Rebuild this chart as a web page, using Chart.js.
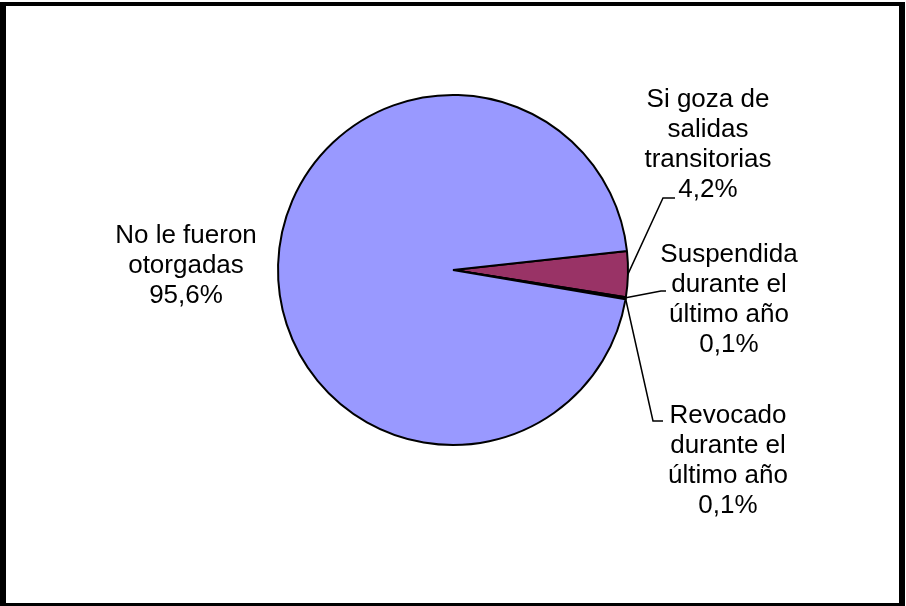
<!DOCTYPE html>
<html>
<head>
<meta charset="utf-8">
<script src="https://cdn.jsdelivr.net/npm/chart.js@4/dist/chart.umd.min.js"></script>
<style>
  html, body { margin: 0; padding: 0; background: #ffffff; }
  #wrap { position: relative; width: 906px; height: 606px; }
  #c { position: absolute; left: 0; top: 0; }
  #frame { position: absolute; left: 0; top: 2px; width: 905px; height: 604px; box-sizing: border-box;
           border-style: solid; border-color: #000; border-width: 4px 6px 3px 6px; pointer-events: none; }
</style>
</head>
<body>
<div id="wrap">
  <canvas id="c" width="906" height="606"></canvas>
  <div id="frame"></div>
</div>
<script>
// ---- data ----
const categories = [
  ["Si goza de", "salidas", "transitorias"],
  ["Suspendida", "durante el", "último año"],
  ["Revocado", "durante el", "último año"],
  ["No le fueron", "otorgadas"]
];
const values = [4.2, 0.1, 0.1, 95.6];
const valueLabels = ["4,2%", "0,1%", "0,1%", "95,6%"];
const colors = ["#993366", "#FFFFCC", "#CCFFFF", "#9999FF"];

// ---- label layout (offsets from pie centre, px) ----
const labelLayout = [
  { tx: 255, ty: -163, elbow: [210, -72], end: [222, -72] },
  { tx: 276, ty: -8,   elbow: [208, 21],  end: [213, 21] },
  { tx: 275, ty: 153,  elbow: [200, 151], end: [210, 151] },
  { tx: -267, ty: -27, elbow: null, end: null }
];

const labelPlugin = {
  id: 'pieLabels',
  afterDatasetsDraw(chart) {
    const ctx = chart.ctx;
    const meta = chart.getDatasetMeta(0);
    const fontSize = 26, lh = 30;
    ctx.save();
    ctx.font = fontSize + 'px "Liberation Sans", Arial, sans-serif';
    ctx.fillStyle = '#000';
    ctx.textAlign = 'center';
    ctx.textBaseline = 'alphabetic';
    meta.data.forEach((arc, i) => {
      const p = arc.getProps(['x', 'y', 'startAngle', 'endAngle', 'outerRadius'], true);
      const L = labelLayout[i];
      const lines = categories[i].concat([valueLabels[i]]);
      lines.forEach((t, k) => ctx.fillText(t, p.x + L.tx, p.y + L.ty + k * lh));
      if (L.elbow) {
        const mid = (p.startAngle + p.endAngle) / 2;
        const sx = p.x + Math.cos(mid) * p.outerRadius;
        const sy = p.y + Math.sin(mid) * p.outerRadius;
        ctx.beginPath();
        ctx.strokeStyle = '#000';
        ctx.lineWidth = 1.5;
        ctx.moveTo(sx, sy);
        ctx.lineTo(p.x + L.elbow[0], p.y + L.elbow[1]);
        ctx.lineTo(p.x + L.end[0], p.y + L.end[1]);
        ctx.stroke();
      }
    });
    ctx.restore();
  }
};

new Chart(document.getElementById('c'), {
  type: 'pie',
  data: {
    labels: categories.map(c => c.join(' ')),
    datasets: [{
      data: values,
      backgroundColor: colors,
      borderColor: '#000000',
      borderWidth: 2
    }]
  },
  options: {
    responsive: false,
    animation: false,
    rotation: 83.8,
    layout: { padding: { top: 94, bottom: 160, left: 0, right: 0 } },
    plugins: { legend: { display: false }, tooltip: { enabled: false } }
  },
  plugins: [labelPlugin]
});
</script>
</body>
</html>
